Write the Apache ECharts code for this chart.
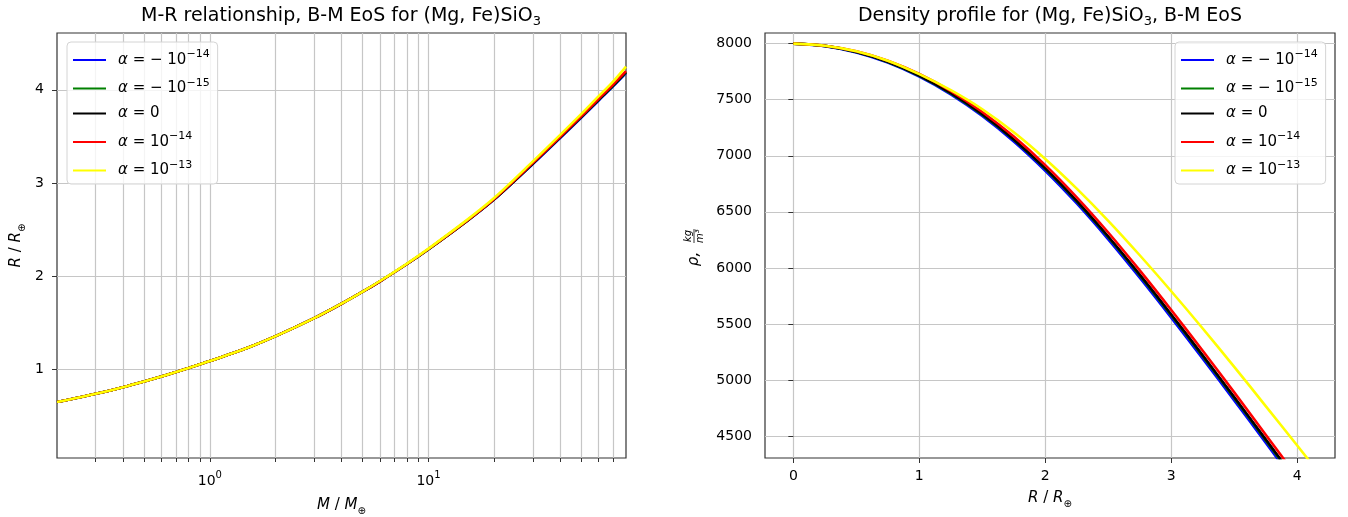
<!DOCTYPE html>
<html>
<head>
<meta charset="utf-8">
<title>M-R relationship and density profile, B-M EoS</title>
<script src="https://cdn.jsdelivr.net/npm/echarts@6/dist/echarts.min.js"></script>
<style>
  html, body { margin: 0; padding: 0; background: #ffffff; }
  #chart { width: 1348px; height: 517px; }
</style>
</head>
<body>
<div id="chart"></div>
<script>
// legend names (one per alpha value)
const seriesNames = ["α = −10⁻¹⁴", "α = −10⁻¹⁵", "α = 0", "α = 10⁻¹⁴", "α = 10⁻¹³"];
const legendLabels = [
  "{i|α}{t| = − 10}{sup|−14}",
  "{i|α}{t| = − 10}{sup|−15}",
  "{i|α}{t| = 0}",
  "{i|α}{t| = 10}{sup|−14}",
  "{i|α}{t| = 10}{sup|−13}",
];

// left panel: M / M_earth vs R / R_earth
const massValues = [0.2, 0.3, 0.4, 0.5, 0.6, 0.7, 0.8, 1, 1.5, 2, 3, 4, 5, 6, 8, 10, 15, 20, 30, 40, 50, 60, 70, 80];
const radiusNeg14 = [0.65, 0.739, 0.81, 0.871, 0.924, 0.972, 1.015, 1.09, 1.236, 1.357, 1.55, 1.705, 1.834, 1.946, 2.134, 2.29, 2.592, 2.825, 3.205, 3.484, 3.703, 3.886, 4.04, 4.18];
const radiusNeg15 = [0.65, 0.739, 0.81, 0.871, 0.924, 0.972, 1.015, 1.09, 1.236, 1.357, 1.55, 1.705, 1.834, 1.946, 2.134, 2.29, 2.594, 2.828, 3.21, 3.49, 3.71, 3.893, 4.047, 4.188];
const radiusZero = [0.65, 0.739, 0.81, 0.871, 0.924, 0.972, 1.015, 1.09, 1.236, 1.357, 1.55, 1.705, 1.834, 1.946, 2.134, 2.29, 2.594, 2.828, 3.21, 3.49, 3.71, 3.895, 4.05, 4.19];
const radiusPos14 = [0.65, 0.739, 0.81, 0.871, 0.924, 0.972, 1.015, 1.09, 1.236, 1.357, 1.55, 1.705, 1.834, 1.946, 2.134, 2.292, 2.597, 2.832, 3.216, 3.497, 3.718, 3.905, 4.06, 4.2];
const radiusPos13 = [0.65, 0.739, 0.81, 0.871, 0.924, 0.972, 1.015, 1.09, 1.236, 1.357, 1.55, 1.706, 1.836, 1.949, 2.139, 2.297, 2.605, 2.842, 3.232, 3.517, 3.742, 3.932, 4.092, 4.25];
const massTicks = [0.3, 0.4, 0.5, 0.6, 0.7, 0.8, 0.9, 1, 2, 3, 4, 5, 6, 7, 8, 9, 10, 20, 30, 40, 50, 60, 70];
const massLabels = [1, 10];
const radiusTicks = [1, 2, 3, 4];

// right panel: density profile rho(R)
const profileRadius = [0, 0.25, 0.5, 0.75, 1, 1.25, 1.5, 1.75, 2, 2.25, 2.5, 2.75, 3, 3.25, 3.5, 3.75, 4, 4.25];
const densityNeg14 = [8000, 7978, 7922, 7831, 7706, 7548, 7355, 7128, 6867, 6575, 6255, 5913, 5557, 5191, 4818, 4441, 4061];
const densityNeg15 = [8000, 7980, 7925, 7836, 7713, 7557, 7366, 7142, 6883, 6593, 6274, 5934, 5578, 5213, 4841, 4464, 4084];
const densityZero = [8000, 7980, 7926, 7838, 7716, 7560, 7370, 7146, 6888, 6598, 6280, 5940, 5585, 5220, 4848, 4471, 4091];
const densityPos14 = [8000, 7982, 7932, 7848, 7730, 7577, 7391, 7171, 6917, 6630, 6316, 5978, 5625, 5261, 4890, 4513, 4134];
const densityPos13 = [8000, 7982, 7933, 7848, 7728, 7585, 7415, 7210, 6972, 6707, 6420, 6113, 5792, 5460, 5118, 4768, 4416, 4061];
const profileTicks = [0, 1, 2, 3, 4];
const densityTicks = [4500, 5000, 5500, 6000, 6500, 7000, 7500, 8000];

const colors = ["#0000ff", "#008000", "#000000", "#ff0000", "#ffff00"];
const font = "DejaVu Sans";
const gridColor = "#c6c6c6";
const frameColor = "#333333";

// rich styles for axis names / tick labels
const rich = {
  i: { fontFamily: font, fontStyle: "italic", fontSize: 15, lineHeight: 22, color: "#000" },
  t: { fontFamily: font, fontSize: 15, lineHeight: 22, color: "#000" },
  n: { fontFamily: font, fontSize: 14, lineHeight: 22, color: "#000" },
  sup: { fontFamily: font, fontSize: 10, lineHeight: 12, verticalAlign: "top", color: "#000" },
  sub: { fontFamily: font, fontSize: 10, lineHeight: 14, verticalAlign: "bottom", color: "#000" },
};
// rich styles for the legends
const legendRich = {
  i: { fontFamily: font, fontStyle: "italic", fontSize: 15, lineHeight: 22, color: "#000", padding: [0, 0, 0, 7] },
  t: { fontFamily: font, fontSize: 15, lineHeight: 22, color: "#000" },
  sup: { fontFamily: font, fontSize: 11, lineHeight: 12, verticalAlign: "top", color: "#000" },
};

const legendBase = {
  data: seriesNames,
  orient: "vertical",
  top: 42,
  icon: "rect",
  itemWidth: 33,
  itemHeight: 2,
  itemGap: 10,
  padding: [7, 8, 6, 6],
  backgroundColor: "rgba(255,255,255,0.8)",
  borderColor: "#d4d4d4",
  borderWidth: 1,
  borderRadius: 4,
  selectedMode: false,
  formatter: (name) => legendLabels[seriesNames.indexOf(name)],
  textStyle: { rich: legendRich },
};

const tickLabel = { fontFamily: font, fontSize: 14, color: "#000" };

const lineSeries = (name, idx, grid, xs, ys) => ({
  name: name,
  type: "line",
  xAxisIndex: grid,
  yAxisIndex: grid,
  data: ys.map((y, i) => [xs[i], y]),
  showSymbol: false,
  symbol: "none",
  smooth: 0.3,
  clip: true,
  lineStyle: { color: colors[idx], width: 2.6 },
  itemStyle: { color: colors[idx] },
  z: 3 + idx,
});

const leftData = [radiusNeg14, radiusNeg15, radiusZero, radiusPos14, radiusPos13];
const rightData = [densityNeg14, densityNeg15, densityZero, densityPos14, densityPos13];

const titleStyle = {
  fontFamily: font, fontSize: 19, fontWeight: "normal", color: "#000", lineHeight: 24,
  rich: { s: { fontFamily: font, fontSize: 13, lineHeight: 15, verticalAlign: "bottom", color: "#000" } },
};

const chart = echarts.init(document.getElementById("chart"), null, { renderer: "canvas" });

const option = {
  animation: false,
  backgroundColor: "#ffffff",
  title: [
    { text: "M-R relationship, B-M EoS for (Mg, Fe)SiO{s|3}", left: 341, top: 4, textAlign: "center", padding: 0, textStyle: titleStyle },
    { text: "Density profile for (Mg, Fe)SiO{s|3}, B-M EoS", left: 1050, top: 4, textAlign: "center", padding: 0, textStyle: titleStyle },
  ],
  legend: [
    Object.assign({}, legendBase, { left: 67 }),
    Object.assign({}, legendBase, { left: 1175 }),
  ],
  grid: [
    { left: 57, top: 33, width: 569, height: 425, show: true, borderColor: frameColor, borderWidth: 1.2, outerBoundsMode: "none" },
    { left: 765, top: 33, width: 570, height: 425, show: true, borderColor: frameColor, borderWidth: 1.2, outerBoundsMode: "none" },
  ],
  xAxis: [
    {
      type: "log",
      logBase: 10,
      gridIndex: 0,
      min: 0.2,
      max: 80,
      axisLine: { show: false },
      axisTick: { show: true, customValues: massTicks, length: 4, lineStyle: { color: frameColor } },
      axisLabel: {
        customValues: massLabels,
        margin: 12,
        formatter: (v) => "{n|10}{sup|" + Math.round(Math.log10(v)) + "}",
        rich: rich,
      },
      splitLine: { show: true, lineStyle: { color: gridColor, width: 1.2 } },
      name: "{i|M}{t| / }{i|M}{sub|⊕}",
      nameLocation: "middle",
      nameGap: 36,
      nameTextStyle: { rich: rich },
    },
    {
      type: "value",
      gridIndex: 1,
      min: -0.225,
      max: 4.3,
      axisLine: { show: false },
      axisTick: { show: true, customValues: profileTicks, length: 5, lineStyle: { color: frameColor } },
      axisLabel: Object.assign({ customValues: profileTicks, margin: 11, formatter: (v) => String(v) }, tickLabel),
      splitLine: { show: true, lineStyle: { color: gridColor, width: 1.2 } },
      name: "{i|R}{t| / }{i|R}{sub|⊕}",
      nameLocation: "middle",
      nameGap: 29,
      nameTextStyle: { rich: rich },
    },
  ],
  yAxis: [
    {
      type: "value",
      gridIndex: 0,
      min: 0.05,
      max: 4.61,
      axisLine: { show: false },
      axisTick: { show: true, customValues: radiusTicks, length: 5, lineStyle: { color: frameColor } },
      axisLabel: Object.assign({ customValues: radiusTicks, margin: 13, formatter: (v) => String(v) }, tickLabel),
      splitLine: { show: true, lineStyle: { color: gridColor, width: 1.2 } },
      name: "{i|R}{t| / }{i|R}{sub|⊕}",
      nameLocation: "middle",
      nameGap: 30,
      nameTextStyle: { rich: rich },
    },
    {
      type: "value",
      gridIndex: 1,
      min: 4305,
      max: 8095,
      axisLine: { show: false },
      axisTick: { show: true, customValues: densityTicks, length: 5, lineStyle: { color: frameColor } },
      axisLabel: Object.assign({ customValues: densityTicks, margin: 13, formatter: (v) => String(v) }, tickLabel),
      splitLine: { show: true, lineStyle: { color: gridColor, width: 1.2 } },
    },
  ],
  // rho, kg/m^3 label with a stacked fraction
  graphic: [
    {
      type: "group",
      x: 694,
      y: 245,
      rotation: Math.PI / 2,
      children: [
        { type: "text", x: -14, y: 0, style: { text: "ρ,", font: 'italic 15px "DejaVu Sans"', fill: "#000", align: "center", verticalAlign: "middle" } },
        { type: "text", x: 9, y: -1, style: { text: "kg", font: 'italic 10px "DejaVu Sans"', fill: "#000", align: "center", verticalAlign: "bottom" } },
        { type: "line", shape: { x1: 2, y1: 0, x2: 16, y2: 0 }, style: { stroke: "#000", lineWidth: 0.8 } },
        { type: "text", x: 9, y: 1, style: { text: "m³", font: 'italic 10px "DejaVu Sans"', fill: "#000", align: "center", verticalAlign: "top" } },
      ],
    },
  ],
  series: [
    ...seriesNames.map((n, k) => lineSeries(n, k, 0, massValues, leftData[k])),
    ...seriesNames.map((n, k) => lineSeries(n, k, 1, profileRadius, rightData[k])),
  ],
};

chart.setOption(option);
</script>
</body>
</html>
